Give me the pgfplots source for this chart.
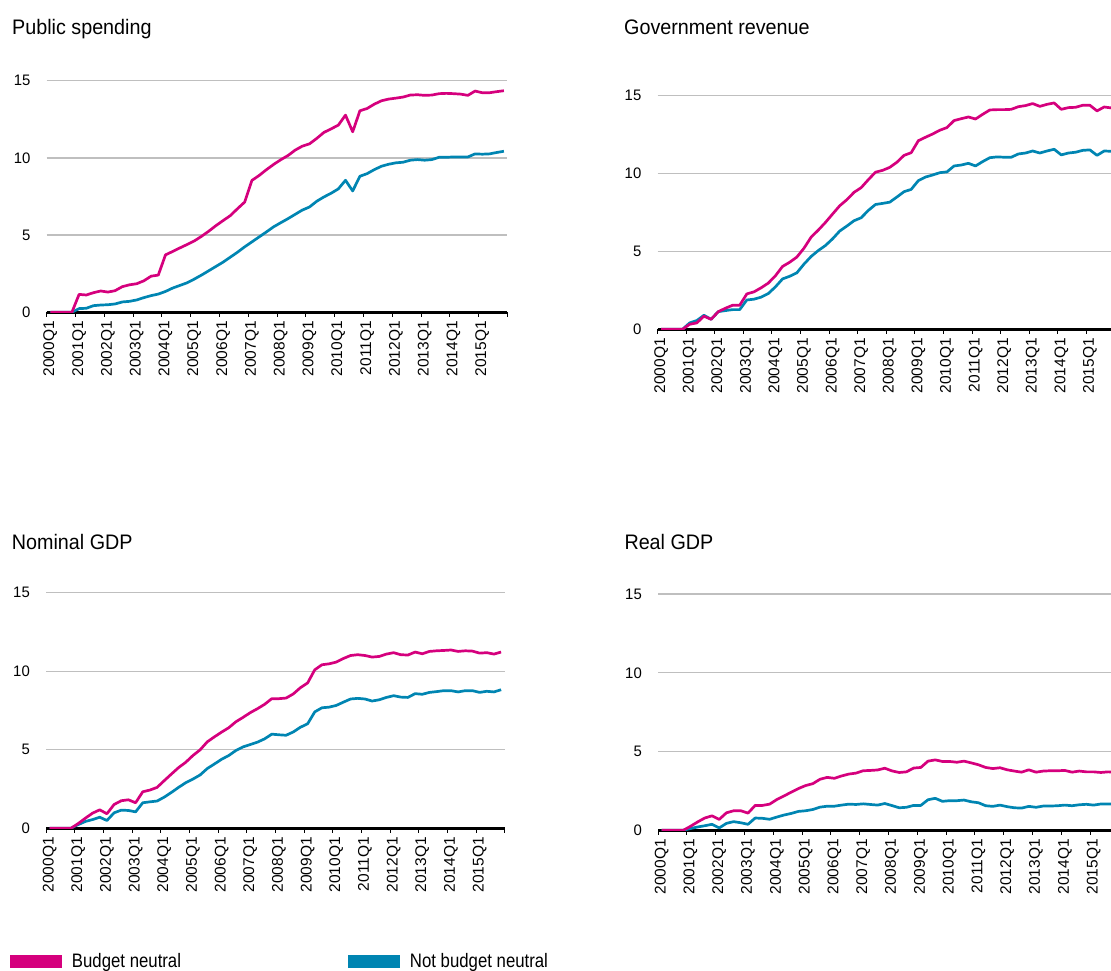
\documentclass[border=0pt]{standalone}
\usepackage{fontspec}
\setmainfont{Liberation Sans}
\newfontfamily\titlefont{Liberation Sans}[FakeStretch=0.94]
\newfontfamily\legfont{Liberation Sans}[FakeStretch=0.86]
\newfontfamily\tickfont{Liberation Sans}[FakeStretch=0.98]
\usepackage{pgfplots}
\usepackage{pgfplotstable}
\pgfplotsset{compat=1.18}
\definecolor{bnpink}{RGB}{213,0,125}
\definecolor{nbblue}{RGB}{0,133,178}

\pgfplotstableread{
q bn nb
0 0 0
1 0 0
2 0 0
3 0 0
4 1.16 0.24
5 1.12 0.26
6 1.27 0.43
7 1.38 0.47
8 1.31 0.49
9 1.40 0.54
10 1.66 0.67
11 1.78 0.71
12 1.85 0.80
13 2.04 0.95
14 2.34 1.08
15 2.41 1.18
16 3.72 1.35
17 3.94 1.57
18 4.17 1.74
19 4.39 1.91
20 4.62 2.15
21 4.92 2.41
22 5.25 2.69
23 5.61 2.97
24 5.94 3.25
25 6.26 3.57
26 6.71 3.89
27 7.14 4.24
28 8.54 4.56
29 8.86 4.88
30 9.23 5.20
31 9.57 5.53
32 9.88 5.80
33 10.15 6.06
34 10.50 6.34
35 10.76 6.62
36 10.91 6.82
37 11.26 7.19
38 11.65 7.47
39 11.88 7.71
40 12.12 7.99
41 12.77 8.55
42 11.69 7.86
43 13.05 8.81
44 13.20 8.98
45 13.48 9.24
46 13.70 9.46
47 13.81 9.59
48 13.87 9.68
49 13.94 9.72
50 14.07 9.85
51 14.09 9.89
52 14.05 9.85
53 14.07 9.89
54 14.16 10.04
55 14.18 10.04
56 14.16 10.06
57 14.13 10.06
58 14.05 10.06
59 14.33 10.26
60 14.22 10.24
61 14.22 10.26
62 14.29 10.35
63 14.35 10.43
}\tabPS

\pgfplotstableread{
q bn nb
0 0 0
1 0 0
2 0 0
3 0 0
4 0.32 0.41
5 0.41 0.56
6 0.84 0.90
7 0.64 0.64
8 1.13 1.13
9 1.35 1.20
10 1.54 1.26
11 1.54 1.26
12 2.27 1.88
13 2.40 1.93
14 2.66 2.06
15 2.96 2.29
16 3.43 2.72
17 4.03 3.23
18 4.30 3.40
19 4.63 3.62
20 5.20 4.18
21 5.91 4.67
22 6.36 5.05
23 6.85 5.37
24 7.39 5.80
25 7.92 6.30
26 8.31 6.62
27 8.78 6.96
28 9.08 7.15
29 9.59 7.62
30 10.07 8.00
31 10.19 8.07
32 10.38 8.15
33 10.71 8.48
34 11.15 8.82
35 11.32 8.97
36 12.09 9.53
37 12.31 9.76
38 12.52 9.89
39 12.76 10.04
40 12.93 10.09
41 13.38 10.47
42 13.50 10.53
43 13.61 10.64
44 13.48 10.47
45 13.78 10.75
46 14.06 11.00
47 14.08 11.05
48 14.08 11.03
49 14.10 11.03
50 14.27 11.24
51 14.34 11.30
52 14.47 11.43
53 14.29 11.30
54 14.42 11.43
55 14.51 11.54
56 14.10 11.18
57 14.21 11.30
58 14.23 11.35
59 14.36 11.47
60 14.36 11.50
61 14.00 11.15
62 14.25 11.43
63 14.19 11.41
}\tabGR

\pgfplotstableread{
q bn nb
0 0 0
1 0 0
2 0 0
3 0 0
4 0.30 0.23
5 0.64 0.43
6 0.96 0.55
7 1.17 0.70
8 0.92 0.49
9 1.51 0.98
10 1.75 1.15
11 1.81 1.13
12 1.62 1.04
13 2.32 1.62
14 2.43 1.68
15 2.60 1.73
16 3.03 1.98
17 3.45 2.28
18 3.86 2.60
19 4.20 2.90
20 4.63 3.13
21 4.99 3.39
22 5.50 3.80
23 5.82 4.09
24 6.12 4.39
25 6.40 4.63
26 6.78 4.95
27 7.06 5.18
28 7.36 5.33
29 7.61 5.48
30 7.89 5.69
31 8.25 5.99
32 8.25 5.95
33 8.29 5.92
34 8.55 6.13
35 8.95 6.43
36 9.25 6.65
37 10.09 7.41
38 10.41 7.67
39 10.47 7.71
40 10.58 7.82
41 10.81 8.03
42 11.00 8.23
43 11.05 8.27
44 11.00 8.23
45 10.90 8.10
46 10.94 8.18
47 11.09 8.33
48 11.18 8.44
49 11.05 8.35
50 11.03 8.33
51 11.22 8.57
52 11.11 8.53
53 11.26 8.65
54 11.30 8.70
55 11.32 8.76
56 11.35 8.76
57 11.26 8.68
58 11.30 8.76
59 11.28 8.76
60 11.15 8.65
61 11.18 8.72
62 11.09 8.68
63 11.22 8.82
}\tabNG

\pgfplotstableread{
q bn nb
0 0 0
1 0 0
2 0 0
3 0 0
4 0.25 0.11
5 0.53 0.21
6 0.78 0.29
7 0.92 0.38
8 0.69 0.15
9 1.11 0.44
10 1.24 0.55
11 1.24 0.48
12 1.09 0.38
13 1.58 0.78
14 1.58 0.76
15 1.66 0.70
16 1.95 0.84
17 2.18 0.97
18 2.42 1.07
19 2.65 1.20
20 2.84 1.24
21 2.96 1.32
22 3.24 1.47
23 3.36 1.53
24 3.30 1.53
25 3.45 1.60
26 3.57 1.66
27 3.63 1.64
28 3.78 1.68
29 3.80 1.64
30 3.83 1.60
31 3.94 1.70
32 3.77 1.57
33 3.67 1.43
34 3.71 1.46
35 3.95 1.58
36 3.99 1.58
37 4.39 1.94
38 4.47 2.03
39 4.37 1.84
40 4.37 1.88
41 4.32 1.88
42 4.39 1.92
43 4.28 1.81
44 4.16 1.75
45 3.99 1.56
46 3.92 1.52
47 3.97 1.60
48 3.84 1.50
49 3.76 1.43
50 3.69 1.41
51 3.84 1.52
52 3.69 1.46
53 3.76 1.54
54 3.78 1.54
55 3.78 1.56
56 3.80 1.60
57 3.69 1.56
58 3.76 1.62
59 3.71 1.65
60 3.71 1.60
61 3.67 1.67
62 3.71 1.67
63 3.69 1.66
}\tabRG

\pgfplotsset{
  panel/.style={
    scale only axis,
    anchor=south west,
    xmin=-0.5, xmax=63.5, ymin=0, ymax=15,
    axis x line*=bottom, axis y line*=left,
    y axis line style={draw=none},
    x axis line style={line width=3pt, black},
    xtick={-0.5,3.5,...,63.5},
    xticklabels={2000Q1,2001Q1,2002Q1,2003Q1,2004Q1,2005Q1,2006Q1,2007Q1,2008Q1,2009Q1,2010Q1,2011Q1,2012Q1,2013Q1,2014Q1,2015Q1,{}},
    ytick={0,5,10,15},
    ymajorgrids,
    grid style={line width=1.3pt, color=black!25},
    tick align=outside,
    major tick length=4.5pt,
    xtick style={line width=0.9pt, black},
    ytick style={draw=none},
    xticklabel style={font=\fontsize{15.5}{15.5}\selectfont, xshift=3.6pt, yshift=-4.2pt, rotate=90, anchor=east, inner sep=0pt},
    yticklabel style={font=\tickfont\fontsize{15.2}{15.2}\selectfont, anchor=east, inner sep=0pt, xshift=-11.5pt},
    /pgf/number format/assume math mode=true,
    every axis plot/.append style={line width=2.7pt, mark=none, line join=round},
    legend image code/.code={\fill[##1, draw=none] (0pt,-6.5pt) rectangle (52pt,6.5pt);},
    legend cell align=left,
  },
  legst/.style={legend style={draw=none, fill=none, inner sep=0pt, outer sep=0pt,
    nodes={inner sep=0pt},
    font=\legfont\fontsize{19.5}{19.5}\selectfont,
    /tikz/every odd column/.append style={column sep=10pt}}},
}

\begin{document}
\begin{tikzpicture}
\useasboundingbox (0pt,0pt) rectangle (1111pt,970pt);

% Public spending
\begin{axis}[panel, at={(46.7pt,657.7pt)}, width=460.8pt, height=231.6pt, xmax=63.5]
\addplot[nbblue] table[x=q,y=nb]{\tabPS};
\addplot[bnpink] table[x=q,y=bn]{\tabPS};
\end{axis}

% Government revenue
\begin{axis}[panel, at={(657.5pt,640.7pt)}, width=453.8pt, height=234pt, xmax=63]
\addplot[nbblue] table[x=q,y=nb]{\tabGR};
\addplot[bnpink] table[x=q,y=bn]{\tabGR};
\end{axis}

% Nominal GDP
\begin{axis}[panel, legst, at={(46pt,141.8pt)}, width=458.7pt, height=235.5pt, xmax=63.5,
  legend style={at={(-0.0785,-0.566)}, anchor=west}]
\addplot[nbblue, forget plot] table[x=q,y=nb]{\tabNG};
\addplot[bnpink, forget plot] table[x=q,y=bn]{\tabNG};
\addlegendimage{fill=bnpink}
\addlegendentry{Budget neutral}
\end{axis}

% Real GDP
\begin{axis}[panel, legst, at={(658pt,139.7pt)}, width=452.9pt, height=236.3pt, xmax=62.4,
  legend style={at={(-0.6845,-0.5552)}, anchor=west}]
\addplot[nbblue, forget plot] table[x=q,y=nb]{\tabRG};
\addplot[bnpink, forget plot] table[x=q,y=bn]{\tabRG};
\addlegendimage{fill=nbblue}
\addlegendentry{Not budget neutral}
\end{axis}

\node[anchor=base west, inner sep=0pt, font=\titlefont\fontsize{21}{21}\selectfont] at (12pt,935.7pt) {Public spending};
\node[anchor=base west, inner sep=0pt, font=\titlefont\fontsize{21}{21}\selectfont] at (624pt,935.7pt) {Government revenue};
\node[anchor=base west, inner sep=0pt, font=\titlefont\fontsize{21}{21}\selectfont] at (11.7pt,420.7pt) {Nominal GDP};
\node[anchor=base west, inner sep=0pt, font=\titlefont\fontsize{21}{21}\selectfont] at (624.3pt,420.7pt) {Real GDP};
\end{tikzpicture}
\end{document}
